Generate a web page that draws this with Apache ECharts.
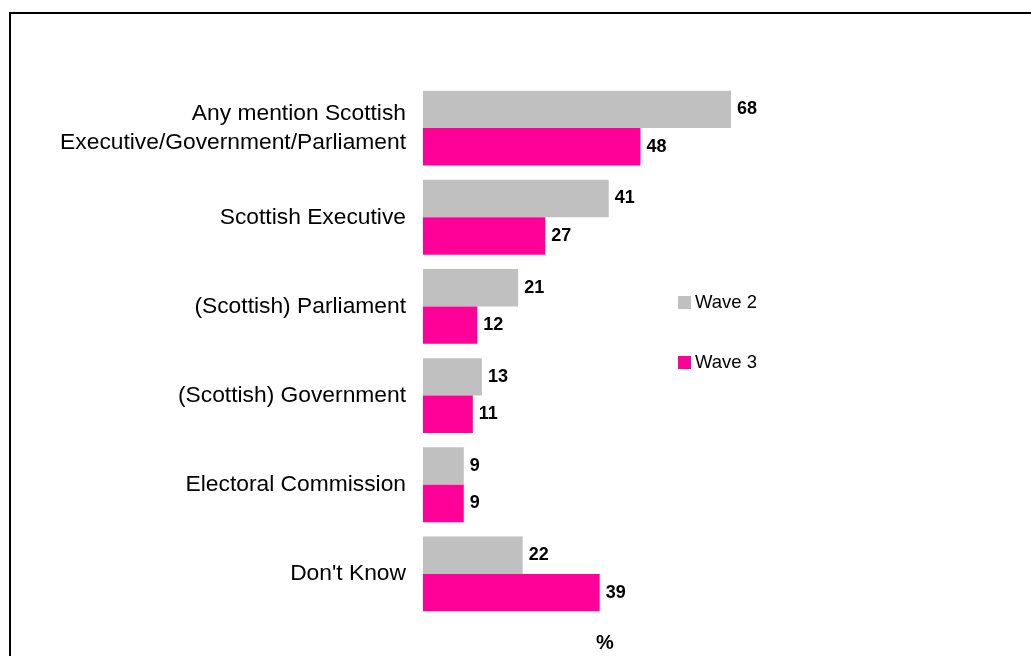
<!DOCTYPE html>
<html>
<head>
<meta charset="utf-8">
<script src="https://cdn.jsdelivr.net/npm/echarts@6/dist/echarts.min.js"></script>
<style>
html,body{margin:0;padding:0;background:#fff;}
#chart{width:1031px;height:656px;}
</style>
</head>
<body>
<div id="chart"></div>
<script>
const categories = [
  "Any mention Scottish\nExecutive/Government/Parliament",
  "Scottish Executive",
  "(Scottish) Parliament",
  "(Scottish) Government",
  "Electoral Commission",
  "Don't Know"
];
const wave2 = [68, 41, 21, 13, 9, 22];
const wave3 = [48, 27, 12, 11, 9, 39];

const FONT = 'Liberation Sans, Arial, sans-serif';
const chart = echarts.init(document.getElementById('chart'));
const labelStyle = {
  show: true, position: 'right', distance: 6,
  fontFamily: FONT, fontWeight: 'bold', fontSize: 18, color: '#000'
};
chart.setOption({
  animation: false,
  textStyle: {fontFamily: FONT},
  title: {
    text: '%', left: 591, top: 628,
    textStyle: {fontFamily: FONT, fontSize: 20, fontWeight: 'bold', color: '#000'}
  },
  graphic: [{
    type: 'rect', z: 100, silent: true,
    shape: {x: 10, y: 13, width: 1060, height: 700},
    style: {fill: 'none', stroke: '#000', lineWidth: 2}
  }],
  legend: {
    orient: 'vertical', left: 673, top: 288, itemGap: 41,
    itemWidth: 13, itemHeight: 13, icon: 'rect',
    textStyle: {fontFamily: FONT, fontSize: 18.5, color: '#000', padding: [0, 0, 0, -1]},
    data: ['Wave 2', 'Wave 3']
  },
  grid: {left: 423, top: 83.5, width: 453, height: 535, containLabel: false},
  xAxis: {
    type: 'value', min: 0, max: 100,
    show: false
  },
  yAxis: {
    type: 'category', inverse: true, data: categories,
    axisLine: {show: false}, axisTick: {show: false},
    axisLabel: {
      margin: 17, fontSize: 22.8, color: '#000', lineHeight: 29,
      fontFamily: FONT, align: 'right'
    }
  },
  series: [
    {name: 'Wave 2', type: 'bar', data: wave2, itemStyle: {color: '#C0C0C0'},
     barGap: '0%', barCategoryGap: '16%', label: labelStyle},
    {name: 'Wave 3', type: 'bar', data: wave3, itemStyle: {color: '#FF0099'},
     barGap: '0%', barCategoryGap: '16%', label: labelStyle}
  ]
});
</script>
</body>
</html>
